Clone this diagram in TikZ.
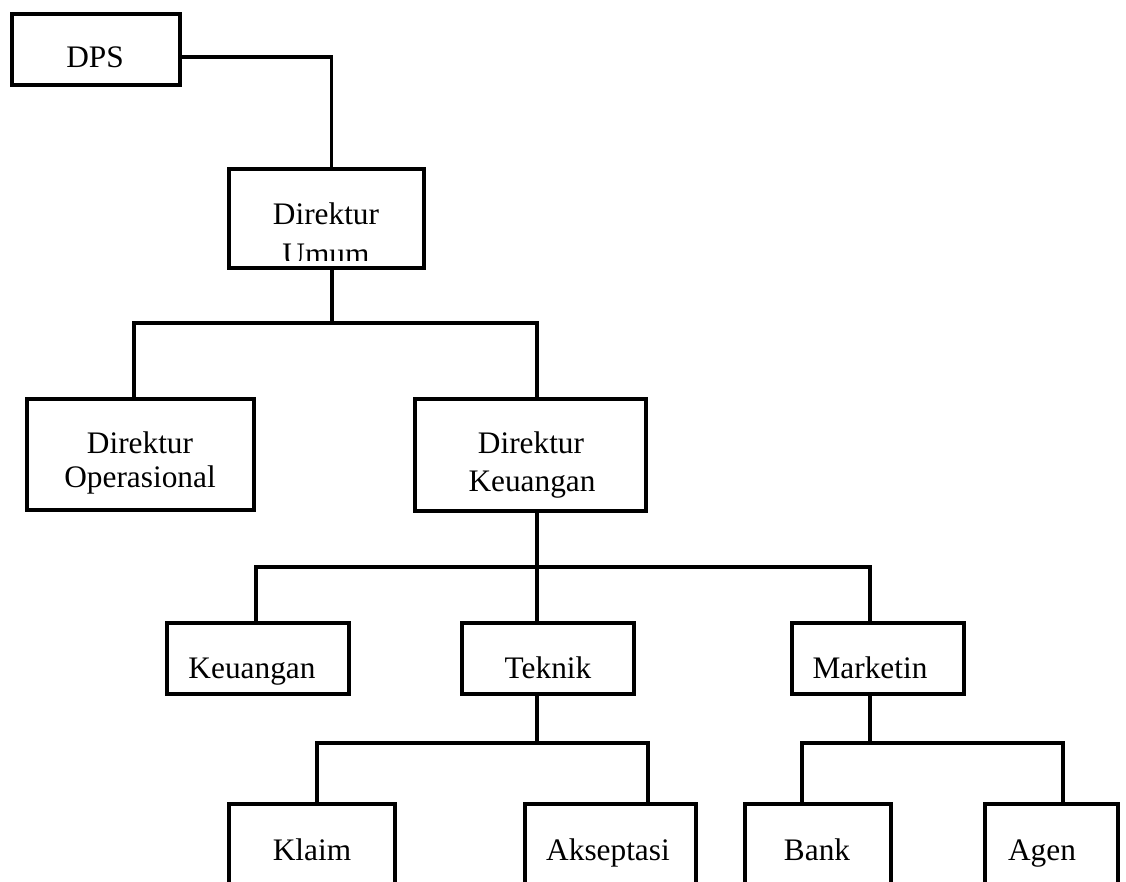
\documentclass[tikz,border=0pt]{standalone}
\usepackage{fontspec}
\setmainfont{Liberation Serif}
\begin{document}
\begin{tikzpicture}[x=0.75pt,y=-0.75pt,
  box/.style 2 args={draw, line width=3.2pt, inner sep=0pt,
    minimum width=#1*0.75pt-3.2pt, minimum height=#2*0.75pt-3.2pt},
  lbl/.style={font=\fontsize{23.5}{28}\selectfont, anchor=base, inner sep=0pt},
  link/.style={line width=2.8pt}]
\useasboundingbox (0,0) rectangle (1126,881);
\clip (0,0) rectangle (1126,881);

% boxes
\node[box={172}{75}]  (dps)   at (96,49.5)   {};
\node[box={199}{103}] (umum)  at (326.5,218.5) {};
\node[box={231}{115}] (dop)   at (140.5,454.5) {};
\node[box={235}{116}] (dku)   at (530.5,455)   {};
\node[box={186}{75}]  (keu)   at (258,658.5)   {};
\node[box={176}{75}]  (tek)   at (548,658.5)   {};
\node[box={176}{75}]  (mkt)   at (878,658.5)   {};
\node[box={170}{118}] (klaim) at (312,861)     {};
\node[box={175}{118}] (aks)   at (610.5,861)   {};
\node[box={150}{118}] (bank)  at (818,861)     {};
\node[box={137}{118}] (agen)  at (1051.5,861)  {};

% labels
\node[lbl] (tdps)  at (95,68)   {DPS};
\node[lbl] (tum1)  at (326,224) {Direktur};
\begin{scope}
  \clip (umum.north west) rectangle (umum.east |- 0,260);
  \node[lbl] (tum2) at (326,264) {Umum};
\end{scope}
\node[lbl] (top1)  at (140,453) {Direktur};
\node[lbl] (top2)  at (140,487.5) {Operasional};
\node[lbl] (tku1)  at (531,453) {Direktur};
\node[lbl] (tku2)  at (532,491) {Keuangan};
\node[lbl] (tkeu)  at (252,678) {Keuangan};
\node[lbl] (ttek)  at (548,678) {Teknik};
\node[lbl] (tmkt)  at (870,678) {Marketin};
\node[lbl] (tkl)   at (312,860) {Klaim};
\node[lbl] (taks)  at (608,860) {Akseptasi};
\node[lbl] (tbank) at (817,860) {Bank};
\node[lbl] (tagen) at (1042,860) {Agen};

% junction points of the connector lines
\coordinate (j0)  at (331.5,57);
\coordinate (b1l) at (134,323);
\coordinate (b1m) at (332,323);
\coordinate (b1r) at (537,323);
\coordinate (b2l) at (256,567);
\coordinate (b2m) at (537,567);
\coordinate (b2r) at (870,567);
\coordinate (b3l) at (317,743);
\coordinate (b3m) at (537,743);
\coordinate (b3r) at (648,743);
\coordinate (b4l) at (802,743);
\coordinate (b4m) at (870,743);
\coordinate (b4r) at (1063,743);

% connectors
\draw[link] (dps.east |- j0) -- (j0) -- (umum.north -| j0);
\draw[link] (umum.south -| b1m) -- (b1m);
\draw[link] (dop.north -| b1l) -- (b1l) -- (b1r) -- (dku.north -| b1r);
\draw[link] (dku.south -| b2m) -- (b2m);
\draw[link] (keu.north -| b2l) -- (b2l) -- (b2r) -- (mkt.north -| b2r);
\draw[link] (b2m) -- (tek.north -| b2m);
\draw[link] (tek.south -| b3m) -- (b3m);
\draw[link] (klaim.north -| b3l) -- (b3l) -- (b3r) -- (aks.north -| b3r);
\draw[link] (mkt.south -| b4m) -- (b4m);
\draw[link] (bank.north -| b4l) -- (b4l) -- (b4r) -- (agen.north -| b4r);
\end{tikzpicture}
\end{document}
